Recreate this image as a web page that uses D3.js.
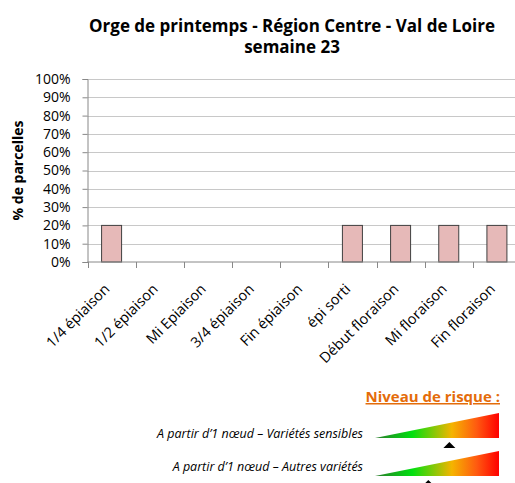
<!DOCTYPE html>
<html>
<head>
<meta charset="utf-8">
<script src="https://cdn.jsdelivr.net/npm/d3@7"></script>
<style>
  body { margin: 0; background: #fff; }
  svg { display: block; font-family: "Open Sans", "Liberation Sans", sans-serif; }
</style>
</head>
<body>
<div id="root"></div>
<script>
const width = 515;
const height = 483;

const stages = ["1/4 épiaison", "1/2 épiaison", "Mi Epiaison", "3/4 épiaison", "Fin épiaison",
                "épi sorti", "Début floraison", "Mi floraison", "Fin floraison"];
const percentParcelles = [20, 0, 0, 0, 0, 20, 20, 20, 20];
const yTicks = [0, 10, 20, 30, 40, 50, 60, 70, 80, 90, 100];

const riskLabels = ["A partir d\u20191 nœud \u2013 Variétés sensibles", "A partir d\u20191 nœud \u2013 Autres variétés"];
const riskLevels = [0.6, 0.43];

const plot = { left: 87.5, right: 521, top: 79, bottom: 262 };

const x = d3.scaleBand().domain(stages).range([plot.left, plot.right]);
const y = d3.scaleLinear().domain([0, 100]).range([plot.bottom, plot.top]);

const svg = d3.select("#root")
    .append("svg")
    .attr("width", width)
    .attr("height", height);

// title
const title = svg.append("text")
    .attr("text-anchor", "middle")
    .attr("font-weight", "bold")
    .attr("font-size", "17px")
    .attr("fill", "#000");
title.append("tspan").attr("x", 292).attr("y", 32).text("Orge de printemps - Région Centre - Val de Loire");
title.append("tspan").attr("x", 292).attr("y", 53).text("semaine 23");

// gridlines
svg.append("g")
    .selectAll("line")
    .data(yTicks.filter(d => d > 0))
    .enter().append("line")
        .attr("x1", plot.left)
        .attr("x2", plot.right)
        .attr("y1", d => Math.round(y(d)) + 0.5)
        .attr("y2", d => Math.round(y(d)) + 0.5)
        .attr("stroke", "#c8c8c8");

// y axis
const yAxis = svg.append("g")
    .attr("transform", `translate(${plot.left},0)`)
    .call(d3.axisLeft(y).tickValues(yTicks).tickSize(5).tickPadding(12).tickFormat(d => d + "%"));
yAxis.select(".domain").attr("stroke", "#888");
yAxis.selectAll(".tick line").attr("stroke", "#888");
yAxis.selectAll(".tick text")
    .attr("font-family", "Open Sans, sans-serif")
    .attr("font-size", "14px")
    .attr("fill", "#000");

svg.append("text")
    .attr("transform", `translate(23,${(plot.top + plot.bottom) / 2}) rotate(-90)`)
    .attr("text-anchor", "middle")
    .attr("font-weight", "bold")
    .attr("font-size", "14px")
    .text("% de parcelles");

// bars
svg.append("g")
    .selectAll("rect")
    .data(percentParcelles)
    .enter().append("rect")
        .attr("x", (d, i) => x(stages[i]) + x.bandwidth() / 2 - 10)
        .attr("y", d => y(d))
        .attr("width", 20)
        .attr("height", d => y(0) - y(d))
        .attr("fill", "#E6B9B8")
        .attr("stroke", "#404040")
        .attr("stroke-width", 1)
        .style("display", d => d > 0 ? null : "none");

// x axis
const xAxis = svg.append("g")
    .attr("transform", `translate(0,${plot.bottom})`);
xAxis.append("line")
    .attr("x1", plot.left).attr("x2", plot.right)
    .attr("stroke", "#888");
xAxis.selectAll(".tk")
    .data(stages)
    .enter().append("line")
        .attr("class", "tk")
        .attr("x1", d => Math.round(x(d)) + 0.5)
        .attr("x2", d => Math.round(x(d)) + 0.5)
        .attr("y1", 0).attr("y2", 6)
        .attr("stroke", "#888");
xAxis.selectAll("text")
    .data(stages)
    .enter().append("text")
        .attr("text-anchor", "end")
        .attr("font-size", "14.5px")
        .attr("transform", d => `translate(${x(d) + x.bandwidth() / 2 - 1},${28}) rotate(-45)`)
        .text(d => d);

// risk legend
svg.append("text")
    .attr("x", 500)
    .attr("y", 402)
    .attr("text-anchor", "end")
    .attr("font-weight", "bold")
    .attr("font-size", "15px")
    .attr("fill", "#E46C0A")
    .attr("text-decoration", "underline")
    .text("Niveau de risque :");

const grad = svg.append("defs").append("linearGradient")
    .attr("id", "risk")
    .attr("x1", "0%").attr("x2", "100%");
[["0%", "#2b7a2b"], ["30%", "#00e010"], ["62%", "#f5b400"], ["82%", "#ff5a10"], ["100%", "#ff0000"]]
    .forEach(s => grad.append("stop").attr("offset", s[0]).attr("stop-color", s[1]));

const wedge = { left: 375, right: 499, h: 25 };
const riskX = d3.scaleLinear().domain([0, 1]).range([wedge.left, wedge.right]);
const rowBase = [438, 476];

const rows = svg.append("g")
    .selectAll("g")
    .data(riskLabels)
    .enter().append("g")
        .attr("transform", (d, i) => `translate(0,${rowBase[i]})`);

rows.append("path")
    .attr("d", `M${wedge.left},0 L${wedge.right},${-wedge.h} L${wedge.right},0 Z`)
    .attr("fill", "url(#risk)");

rows.append("path")
    .attr("d", (d, i) => {
        const cx = riskX(riskLevels[i]);
        return `M${cx},4 L${cx + 6},10 L${cx - 6},10 Z`;
    })
    .attr("fill", "#000");

rows.append("text")
    .attr("x", 363)
    .attr("y", (d, i) => i === 0 ? 0 : -5)
    .attr("text-anchor", "end")
    .attr("font-style", "italic")
    .attr("font-size", "12.5px")
    .text(d => d);
</script>
</body>
</html>
